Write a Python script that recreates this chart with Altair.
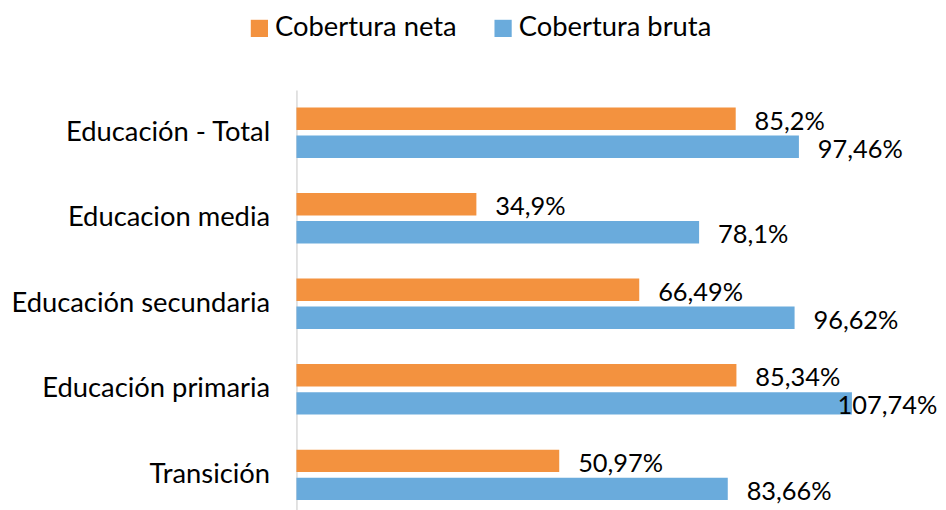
import altair as alt
import pandas as pd

categories = ["Educación - Total", "Educacion media", "Educación secundaria",
              "Educación primaria", "Transición"]
series = ["Cobertura neta", "Cobertura bruta"]
neta = [85.2, 34.9, 66.49, 85.34, 50.97]
bruta = [97.46, 78.1, 96.62, 107.74, 83.66]
neta_labels = ["85,2%", "34,9%", "66,49%", "85,34%", "50,97%"]
bruta_labels = ["97,46%", "78,1%", "96,62%", "107,74%", "83,66%"]
colors = ["#F3923F", "#6AABDC"]

rows = []
for i, c in enumerate(categories):
    rows.append({"cat": c, "serie": series[0], "value": neta[i], "label": neta_labels[i]})
    rows.append({"cat": c, "serie": series[1], "value": bruta[i], "label": bruta_labels[i]})
df = pd.DataFrame(rows)

FONT = "Lato"

y_enc = alt.Y("cat:N", sort=categories,
              scale=alt.Scale(paddingInner=0.41, paddingOuter=0.205),
              axis=alt.Axis(title=None, ticks=False, domainColor="#d9d9d9",
                            domainWidth=1.5, labelPadding=27, labelFontSize=27.5,
                            labelColor="#000000", labelFont=FONT, labelLimit=400))
yoff = alt.YOffset("serie:N", sort=series,
                   scale=alt.Scale(paddingInner=0.2, paddingOuter=0))
x_scale = alt.Scale(domain=[0, 120], nice=False)

bars = alt.Chart(df).mark_bar().encode(
    y=y_enc,
    yOffset=yoff,
    x=alt.X("value:Q", scale=x_scale, axis=None),
    color=alt.Color("serie:N", sort=series,
                    scale=alt.Scale(domain=series, range=colors),
                    legend=alt.Legend(title=None, orient="none", legendX=-51, legendY=-76,
                                      direction="horizontal", symbolType="square",
                                      symbolSize=300, symbolStrokeWidth=0,
                                      labelFontSize=27.5, labelFont=FONT, labelColor="#000000",
                                      labelLimit=400, labelOffset=2, columnPadding=32)),
)

text = alt.Chart(df).transform_calculate(
    lx="min(datum.value, 101.3)"
).mark_text(align="left", baseline="middle", dx=19, dy=3, fontSize=25.5,
            font=FONT, color="#000000").encode(
    y=alt.Y("cat:N", sort=categories),
    yOffset=alt.YOffset("serie:N", sort=series),
    x=alt.X("lx:Q", scale=x_scale, axis=None),
    text="label:N",
)

chart = (bars + text).properties(
    width=622, height=430,
    padding={"left": 2, "top": 5, "right": 0, "bottom": 5},
).configure_view(stroke=None)

chart.save("out.html", embed_options={"renderer": "svg", "actions": False})
